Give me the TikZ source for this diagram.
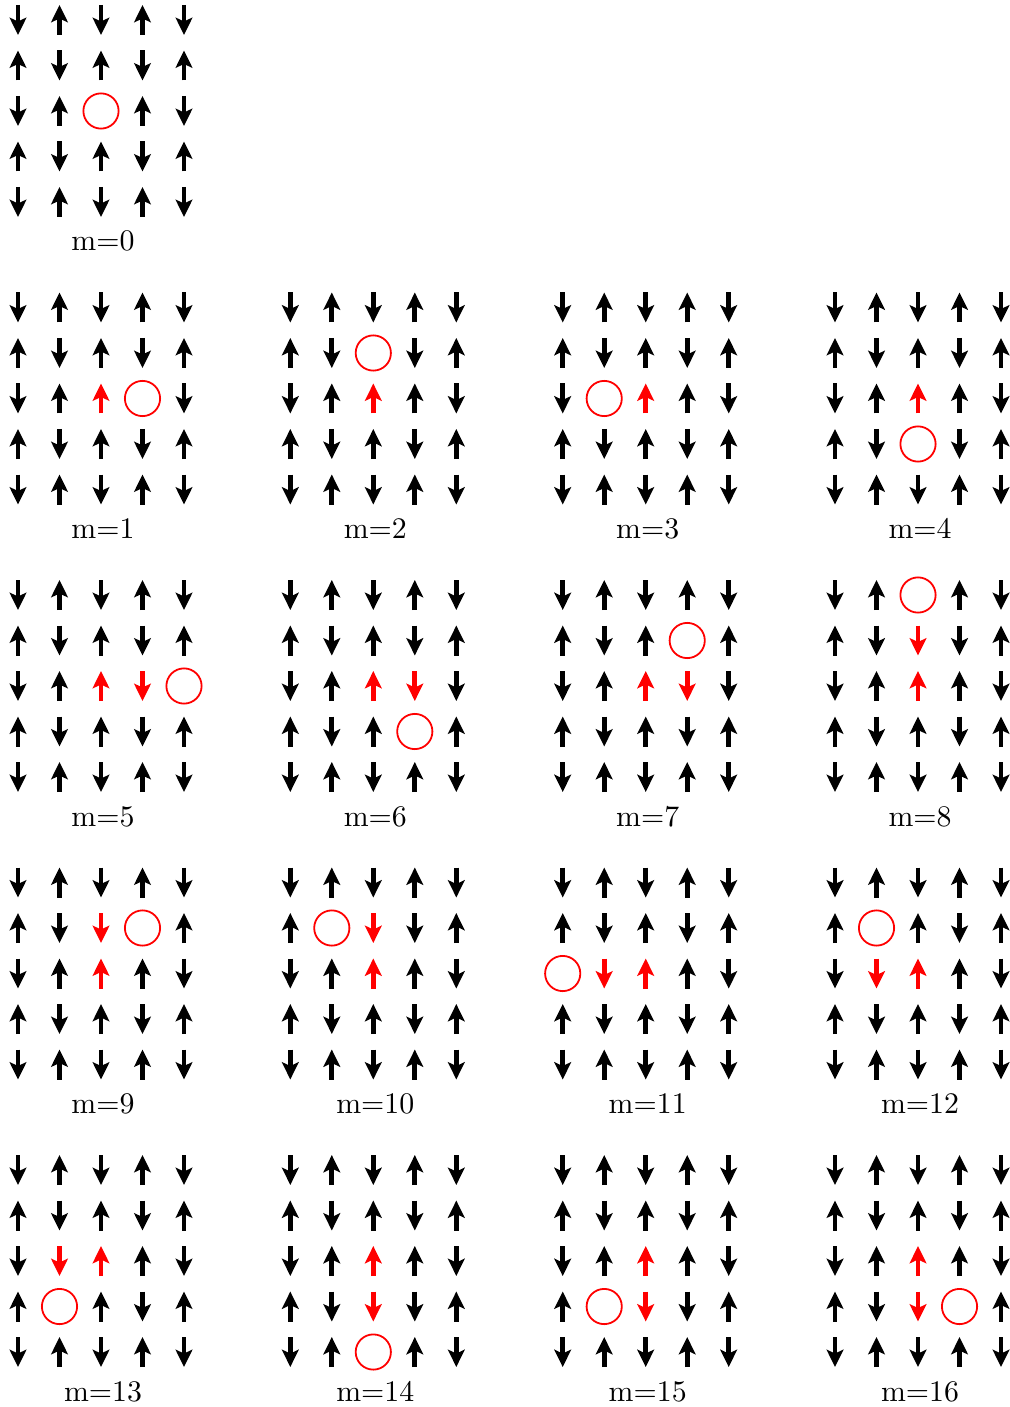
\documentclass[tikz,border=0pt]{standalone}
\usetikzlibrary{arrows.meta}
\tikzset{
  spin/.style={line width=1.6pt, -{Stealth[length=5.8pt,width=5.6pt,inset=1.3pt]}},
  redspin/.style={spin, red},
  holecircle/.style={circle, draw=red, line width=0.6pt, minimum size=11.8pt, inner sep=0pt},
  mlabel/.style={anchor=base, inner sep=0pt, font=\fontsize{10}{12}\selectfont}
}
% #1 m, #2 x0, #3 y0, #4 hole row, #5 hole col, #6 red list r/c/state (2 up, 3 down)
\newcommand\spinpanel[6]{%
  \foreach \r in {0,...,4}{%
    \foreach \c in {0,...,4}{%
      \pgfmathtruncatemacro\spinst{mod(\r+\c,2)}%
      \xdef\spinstate{\spinst}%
      \ifnum\r=#4 \ifnum\c=#5 \gdef\spinstate{4}\fi\fi
      \foreach \rr/\cc/\dd in {#6}{\ifnum\rr=\r \ifnum\cc=\c \xdef\spinstate{\dd}\fi\fi}%
      \pgfmathsetmacro\sx{#2+\c*41.5}%
      \pgfmathsetmacro\sy{#3+\r*45.5}%
      \ifcase\spinstate\relax
        \draw[spin] ({\sx},{\sy-15}) -- ({\sx},{\sy+15});
      \or
        \draw[spin] ({\sx},{\sy+15}) -- ({\sx},{\sy-15});
      \or
        \draw[redspin] ({\sx},{\sy+15}) -- ({\sx},{\sy-15});
      \or
        \draw[redspin] ({\sx},{\sy-15}) -- ({\sx},{\sy+15});
      \or
        \node[holecircle] (p#1-hole) at ({\sx},{\sy}) {};
      \fi
    }%
  }%
  \node[mlabel] (p#1-label) at ({#2+85},{#3+231}) {m=#1};
}
\begin{document}
\begin{tikzpicture}[x=0.335pt, y=-0.335pt]
\useasboundingbox (0,0) rectangle (1010,1407);
\def\ca{18}\def\cb{290.3}\def\cc{562.7}\def\cd{835}
\def\ra{307.5}\def\rb{595}\def\rc{882.5}\def\rd{1170}
\spinpanel{0}{18}{20}{2}{2}{9/9/0}
\spinpanel{1}{\ca}{\ra}{2}{3}{2/2/2}
\spinpanel{2}{\cb}{\ra}{1}{2}{2/2/2}
\spinpanel{3}{\cc}{\ra}{2}{1}{2/2/2}
\spinpanel{4}{\cd}{\ra}{3}{2}{2/2/2}
\spinpanel{5}{\ca}{\rb}{2}{4}{2/2/2,2/3/3}
\spinpanel{6}{\cb}{\rb}{3}{3}{2/2/2,2/3/3}
\spinpanel{7}{\cc}{\rb}{1}{3}{2/2/2,2/3/3}
\spinpanel{8}{\cd}{\rb}{0}{2}{2/2/2,1/2/3}
\spinpanel{9}{\ca}{\rc}{1}{3}{2/2/2,1/2/3}
\spinpanel{10}{\cb}{\rc}{1}{1}{2/2/2,1/2/3}
\spinpanel{11}{\cc}{\rc}{2}{0}{2/2/2,2/1/3}
\spinpanel{12}{\cd}{\rc}{1}{1}{2/2/2,2/1/3}
\spinpanel{13}{\ca}{\rd}{3}{1}{2/2/2,2/1/3}
\spinpanel{14}{\cb}{\rd}{4}{2}{2/2/2,3/2/3}
\spinpanel{15}{\cc}{\rd}{3}{1}{2/2/2,3/2/3}
\spinpanel{16}{\cd}{\rd}{3}{3}{2/2/2,3/2/3}
\end{tikzpicture}
\end{document}
